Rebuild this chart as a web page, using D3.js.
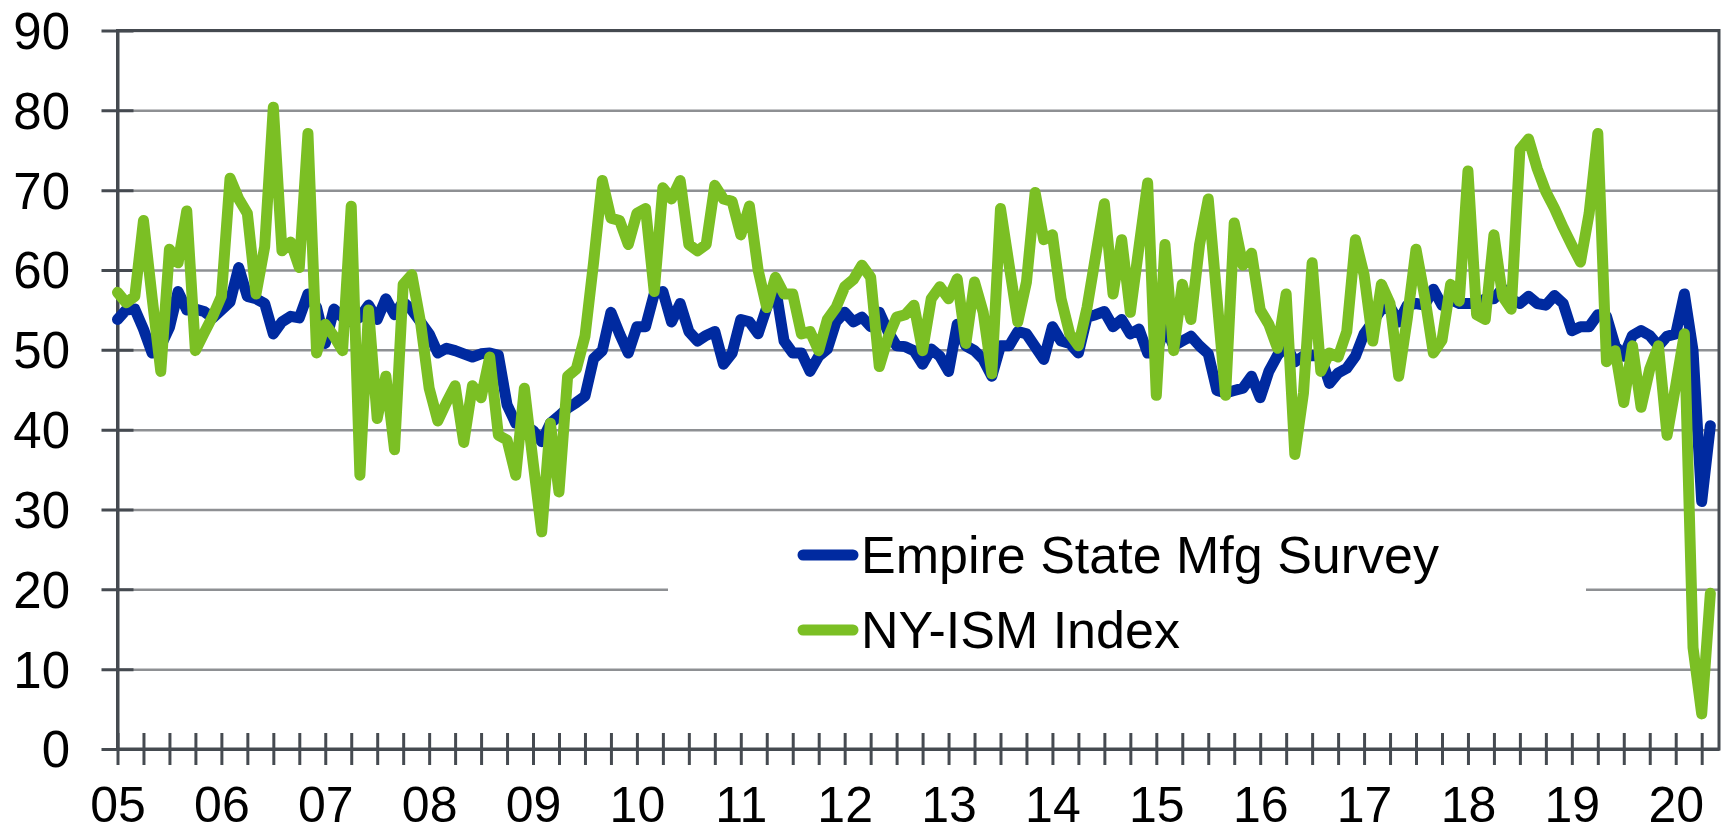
<!DOCTYPE html>
<html>
<head>
<meta charset="utf-8">
<script src="https://cdn.jsdelivr.net/npm/d3@7/dist/d3.min.js"></script>
<style>
  body { margin: 0; background: #fff; }
  text { font-family: "Liberation Sans", Arial, sans-serif; fill: #000; }
  .grid line { stroke: #8e9093; stroke-width: 2.5; }
  .grid path { display: none; }
  .axis line, .axis path { stroke: #454a50; stroke-width: 3; }
</style>
</head>
<body>
<div id="viz"></div>
<script>
// monthly readings, Jan 2005 .. May 2020
var empire = [
  53.8, 55.0, 55.1, 52.6, 49.6, 50.5, 52.8, 57.3, 55.0, 55.1, 54.8, 54.0,
  55.0, 56.0, 60.3, 56.7, 56.4, 55.8, 52.0, 53.5, 54.2, 54.0, 57.0, 55.3,
  50.8, 55.1, 54.1, 53.5, 54.1, 55.6, 53.8, 56.4, 54.4, 56.0, 55.0, 53.5,
  52.0, 49.6, 50.2, 49.9, 49.5, 49.1, 49.5, 49.6, 49.3, 43.1, 40.8, 40.5,
  39.9, 38.5, 40.8, 41.7, 42.7, 43.4, 44.2, 48.9, 49.9, 54.7, 52.0, 49.6,
  52.9, 52.9, 57.0, 57.3, 53.5, 55.8, 52.3, 51.1, 51.8, 52.3, 48.2, 49.6,
  53.8, 53.5, 52.0, 55.3, 57.9, 51.1, 49.6, 49.6, 47.3, 49.2, 50.1, 53.5,
  54.7, 53.5, 54.1, 52.9, 54.7, 52.3, 50.5, 50.4, 49.9, 48.2, 50.1, 49.2,
  47.3, 53.2, 50.5, 49.9, 48.8, 46.7, 50.5, 50.5, 52.3, 52.0, 50.4, 48.8,
  52.9, 51.1, 50.8, 49.6, 54.1, 54.4, 54.8, 52.9, 53.8, 52.0, 52.6, 49.6,
  49.6, 52.9, 50.5, 51.1, 51.7, 50.5, 49.5, 44.9, 44.6, 44.9, 45.2, 46.7,
  44.0, 47.3, 49.3, 50.5, 48.5, 49.2, 49.3, 49.2, 45.8, 47.1, 47.7, 49.2,
  52.0, 53.5, 55.1, 55.4, 53.5, 55.6, 55.8, 55.6, 57.6, 55.6, 56.3, 55.8,
  55.8, 55.8, 56.4, 56.4, 57.7, 56.3, 55.8, 56.7, 55.8, 55.6, 56.8, 55.8,
  52.4, 52.9, 52.9, 54.4, 54.2, 50.5, 49.2, 51.8, 52.4, 51.8, 50.5, 51.7,
  52.0, 57.0, 49.9, 31.0, 40.5
];
var nyism = [
  57.2, 55.9, 56.7, 66.2, 56.5, 47.3, 62.6, 60.9, 67.4, 49.9, 52.1, 54.2,
  56.7, 71.5, 68.9, 67.1, 57.0, 62.9, 80.4, 62.4, 63.5, 60.3, 77.1, 49.6,
  53.2, 51.7, 49.9, 68.0, 34.3, 55.0, 41.4, 46.7, 37.5, 58.2, 59.4, 53.5,
  45.2, 41.1, 43.4, 45.5, 38.4, 45.5, 44.0, 49.1, 39.3, 38.7, 34.3, 45.2,
  36.0, 27.2, 40.8, 32.2, 46.7, 47.6, 51.7, 61.0, 71.2, 66.5, 66.2, 63.2,
  67.1, 67.7, 57.3, 70.3, 68.9, 71.2, 63.2, 62.4, 63.2, 70.6, 68.9, 68.6,
  64.4, 68.0, 60.0, 55.3, 59.1, 57.0, 57.0, 52.0, 52.3, 49.9, 53.8, 55.3,
  57.9, 58.8, 60.6, 59.1, 47.9, 51.5, 54.1, 54.4, 55.6, 49.9, 56.4, 57.9,
  56.4, 58.9, 50.8, 58.5, 54.7, 47.0, 67.7, 60.6, 53.5, 58.5, 69.7, 63.8,
  64.4, 56.4, 52.0, 50.5, 55.3, 61.8, 68.3, 57.0, 63.8, 54.7, 62.9, 70.9,
  44.3, 63.2, 49.9, 58.2, 53.8, 63.2, 68.9, 56.5, 44.3, 65.9, 60.6, 62.1,
  55.0, 53.2, 50.2, 57.0, 36.9, 44.6, 60.9, 47.3, 49.6, 49.1, 52.3, 63.8,
  59.4, 51.1, 58.2, 55.8, 46.7, 54.0, 62.6, 56.7, 49.6, 51.2, 58.2, 56.1,
  72.4, 54.4, 53.8, 64.4, 56.7, 55.1, 75.1, 76.4, 72.7, 69.8, 67.7, 65.3,
  63.1, 61.0, 67.1, 77.1, 48.5, 49.9, 43.4, 50.5, 42.8, 47.6, 50.5, 39.3,
  45.5, 52.0, 12.7, 4.4, 19.5
];
var yearLabels = ["05", "06", "07", "08", "09", "10", "11", "12", "13", "14", "15", "16", "17", "18", "19", "20"];
var seriesNames = ["Empire State Mfg Survey", "NY-ISM Index"];
var seriesColors = ["#002aa0", "#7bbf24"];

var margin = { top: 30.5, right: 8, bottom: 85, left: 117.5 },
    width = 1727 - margin.left - margin.right,
    height = 834 - margin.top - margin.bottom;

var svg = d3.select('#viz').append('svg')
    .attr('width', 1727)
    .attr('height', 834);

var g = svg.append('g')
    .attr('transform', 'translate(' + margin.left + ',' + margin.top + ')');

var x = d3.scaleLinear().domain([0, 185]).range([0, width]);
var y = d3.scaleLinear().domain([0, 90]).range([height, 0]);

// gridlines
g.append('g')
    .attr('class', 'grid')
    .call(d3.axisLeft(y).ticks(9).tickSize(-width).tickFormat(''));

var quarters = d3.range(0, 186, 3);
var januaries = d3.range(0, yearLabels.length * 12, 12);

// y axis, ticks cross the line
var yGuide = g.append('g')
    .attr('class', 'axis')
    .call(d3.axisLeft(y).ticks(9).tickSize(16).tickSizeOuter(0).tickPadding(31.5));
yGuide.selectAll('.tick line').attr('x1', 16);
yGuide.selectAll('text').style('font-size', '51px').attr('dy', '0.35em');

// x axis, quarterly ticks
var xGuide = g.append('g')
    .attr('class', 'axis')
    .attr('transform', 'translate(0,' + height + ')')
    .call(d3.axisBottom(x).tickValues(quarters).tickSize(16).tickSizeOuter(0).tickFormat(''));
xGuide.selectAll('.tick line').attr('y1', -16);

// year labels
var xLabels = g.append('g')
    .attr('transform', 'translate(0,' + height + ')')
    .call(d3.axisBottom(x).tickValues(januaries).tickSize(0).tickPadding(37)
        .tickFormat(function(d, i) { return yearLabels[i]; }));
xLabels.select('.domain').remove();
xLabels.selectAll('text').style('font-size', '50px');

// plot border (top and right)
g.append('rect')
    .attr('x', 0).attr('y', 0)
    .attr('width', width).attr('height', height)
    .attr('fill', 'none')
    .attr('stroke', '#454a50')
    .attr('stroke-width', 3);

var line = d3.line()
    .x(function(d, i) { return x(i); })
    .y(function(d) { return y(d); });

[empire, nyism].forEach(function(values, k) {
    g.append('path')
        .datum(values)
        .attr('fill', 'none')
        .attr('stroke', seriesColors[k])
        .attr('stroke-width', 11)
        .attr('stroke-linejoin', 'round')
        .attr('stroke-linecap', 'round')
        .attr('d', line);
});

// legend
var legend = svg.append('g');
legend.append('rect')
    .attr('x', 668).attr('y', 513)
    .attr('width', 918).attr('height', 153)
    .attr('fill', '#fff');
seriesNames.forEach(function(name, k) {
    var ly = 555 + k * 75;
    legend.append('line')
        .attr('x1', 803).attr('x2', 853)
        .attr('y1', ly).attr('y2', ly)
        .attr('stroke', seriesColors[k])
        .attr('stroke-width', 11)
        .attr('stroke-linecap', 'round');
    legend.append('text')
        .attr('x', 861)
        .attr('y', ly + 17.5)
        .style('font-size', '52px')
        .text(name);
});
</script>
</body>
</html>
